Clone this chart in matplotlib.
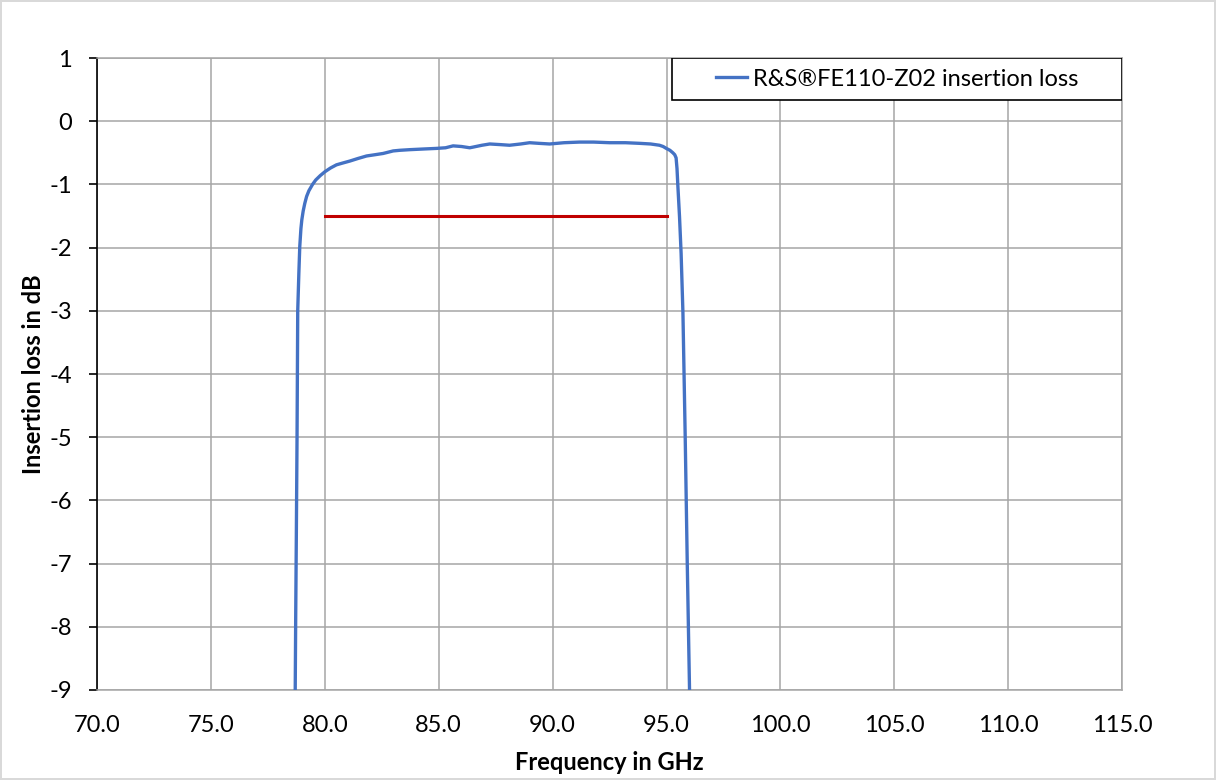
import matplotlib.pyplot as plt
from matplotlib.patches import Rectangle

plt.rcParams['font.family'] = ['Lato', 'DejaVu Sans']

# measured insertion loss of the band filter (GHz, dB)
freq_ghz = [78.70, 78.72, 78.75, 78.78, 78.81, 78.86, 78.90, 78.95, 78.99,
            79.05, 79.12, 79.20, 79.30, 79.46, 79.60, 79.80, 80.00, 80.25,
            80.51, 80.80, 81.10, 81.45, 81.83, 82.20, 82.56, 83.00, 83.29,
            83.73, 84.30, 84.90, 85.30, 85.63, 86.00, 86.36, 86.50, 86.90,
            87.24, 87.70, 88.11, 88.60, 88.99, 89.40, 89.87, 90.50, 91.18,
            91.80, 92.50, 93.20, 93.82, 94.30, 94.69, 94.85, 94.99, 95.15,
            95.28, 95.36, 95.42, 95.46, 95.50, 95.57, 95.64, 95.72, 95.82,
            95.91, 96.01]
loss_db = [-9.00, -7.90, -6.50, -5.00, -3.00, -2.40, -1.98, -1.70, -1.56,
           -1.42, -1.30, -1.19, -1.10, -1.00, -0.93, -0.86, -0.80, -0.74,
           -0.69, -0.66, -0.63, -0.59, -0.55, -0.53, -0.51, -0.47, -0.46,
           -0.45, -0.44, -0.43, -0.42, -0.39, -0.40, -0.42, -0.41, -0.38,
           -0.36, -0.37, -0.38, -0.36, -0.34, -0.35, -0.36, -0.34, -0.33,
           -0.33, -0.34, -0.34, -0.35, -0.36, -0.38, -0.40, -0.43, -0.46,
           -0.50, -0.53, -0.58, -0.75, -1.04, -1.51, -2.09, -3.03, -5.00,
           -7.00, -9.00]

# specification limit across the passband
spec_freq = [80.0, 95.0]
spec_loss = [-1.5, -1.5]

x_ticks = [70, 75, 80, 85, 90, 95, 100, 105, 110, 115]
y_ticks = [1, 0, -1, -2, -3, -4, -5, -6, -7, -8, -9]

grid_col = '#a6a6a6'
fs = 17

fig = plt.figure(figsize=(12.16, 7.8), dpi=100, edgecolor='#d9d9d9', linewidth=1.5)
ax = fig.add_axes([0.0798, 0.1154, 0.843, 0.8102])

ax.plot(freq_ghz, loss_db, color='#4472C4', lw=2.4, label='R&S®FE110-Z02 insertion loss',
        solid_joinstyle='round', zorder=3)
ax.plot(spec_freq, spec_loss, color='#C00000', lw=2.2, zorder=3)

ax.set_xlim(70, 115)
ax.set_ylim(-9, 1)
ax.set_xticks(x_ticks)
ax.set_xticklabels([f'{v:.1f}' for v in x_ticks])
ax.set_yticks(y_ticks)
ax.set_yticklabels([f'{v}' for v in y_ticks])
ax.grid(True, color=grid_col, lw=1.1)
ax.set_axisbelow(True)

for side in ['top', 'right', 'bottom']:
    ax.spines[side].set_color(grid_col)
    ax.spines[side].set_linewidth(1.1)
ax.spines['left'].set_color('black')
ax.spines['left'].set_linewidth(1.2)

ax.tick_params(axis='x', length=0, pad=18, labelsize=fs)
ax.tick_params(axis='y', length=6, width=1.2, direction='out', color='black', pad=12, labelsize=fs)

ax.set_xlabel('Frequency in GHz', fontsize=fs, fontweight='bold', labelpad=11)
ax.set_ylabel('Insertion loss in dB', fontsize=fs, fontweight='bold', labelpad=3)

# legend box in the upper right corner
box_x0, box_y0 = 0.561, 0.9335
ax.add_patch(Rectangle((box_x0, box_y0), 1 - box_x0, 1 - box_y0, transform=ax.transAxes,
                       facecolor='white', edgecolor='black', lw=1.2, zorder=4))
leg = ax.legend(loc='center', bbox_to_anchor=((box_x0 + 1) / 2, (box_y0 + 1) / 2),
                frameon=False, fontsize=fs, handlelength=1.3, handletextpad=0.25)
leg.set_zorder(5)

fig.savefig('out.png', dpi=100)
